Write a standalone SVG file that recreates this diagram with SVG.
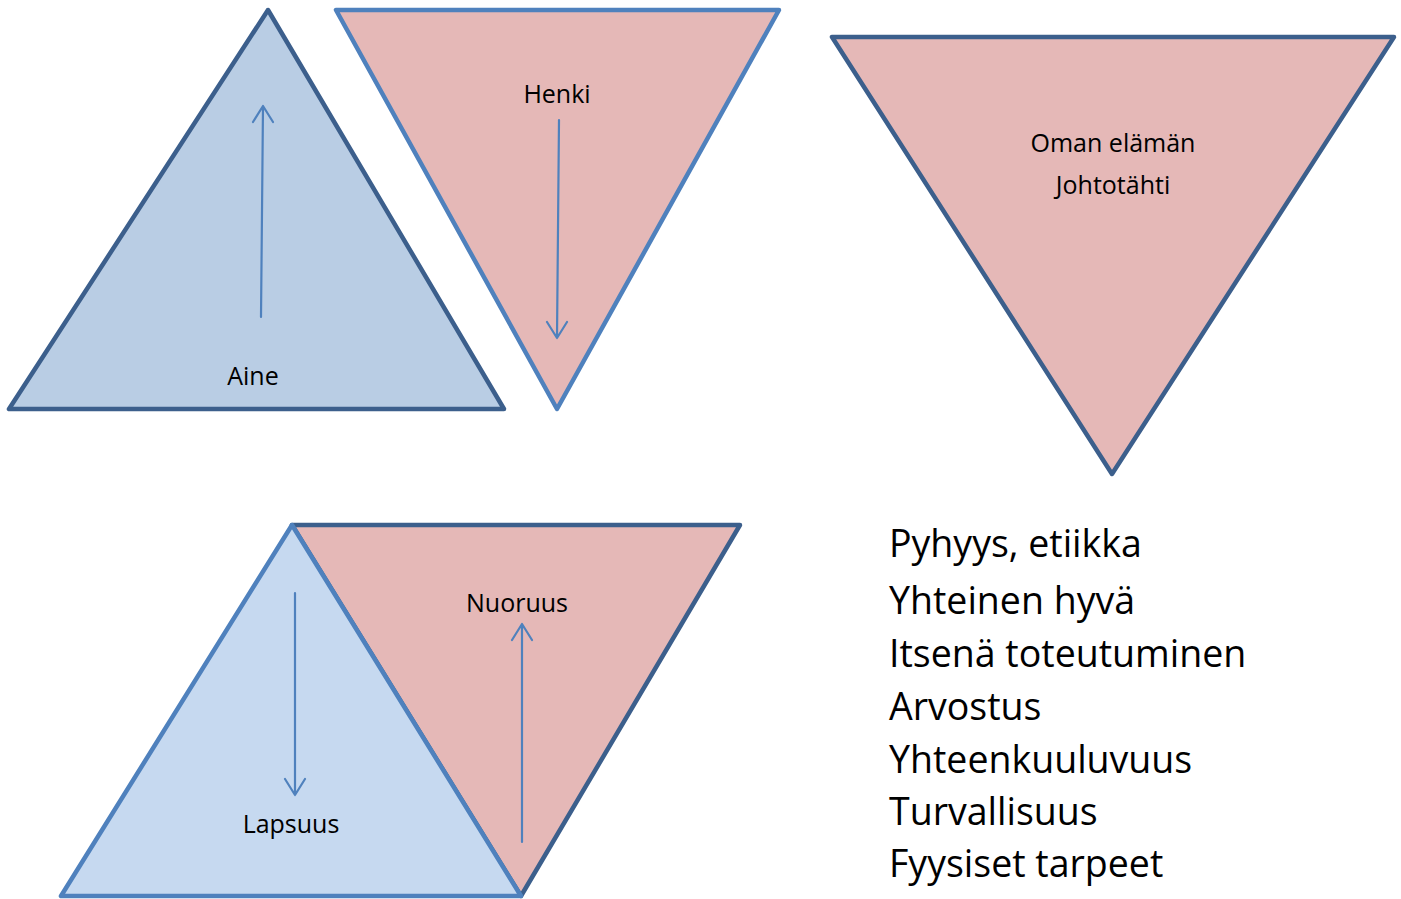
<svg xmlns="http://www.w3.org/2000/svg" width="1401" height="899" viewBox="0 0 1401 899">
<defs>
<style>
.lbl{font-family:"Open Sans","Liberation Sans",sans-serif;font-size:25px;fill:#000;text-anchor:middle}
.lst{font-family:"Open Sans","Liberation Sans",sans-serif;font-size:37.5px;fill:#000}
.dark{stroke:#3c5f8c;stroke-width:4.5;stroke-linejoin:round}
.light{stroke:#4f81bd;stroke-width:4.5;stroke-linejoin:round}
.arr{stroke:#4f81bd;stroke-width:2.2;fill:none;stroke-linecap:round;stroke-linejoin:round}
</style>
</defs>
<rect width="1401" height="899" fill="#fff"/>
<g id="aine">
<polygon points="268,10 9,409 504,409" fill="#b9cde4" class="dark"/>
<text class="lbl" x="253" y="385">Aine</text>
</g>
<g id="henki">
<polygon points="336,10 779,10 557,409" fill="#e5b8b7" class="light"/>
<text class="lbl" x="557" y="103">Henki</text>
</g>
<g id="johtotahti">
<polygon points="832,37 1394,37 1112,474" fill="#e5b8b7" class="dark"/>
<text class="lbl" x="1113" y="152">Oman elämän</text>
<text class="lbl" x="1113" y="194">Johtotähti</text>
</g>
<g id="nuoruus">
<polygon points="292,525 740,525 521,896" fill="#e5b8b7" class="dark"/>
<text class="lbl" x="517" y="612">Nuoruus</text>
</g>
<g id="lapsuus">
<polygon points="292,525 61,896 521,896" fill="#c6d9f0" class="light"/>
<text class="lbl" x="291" y="833">Lapsuus</text>
</g>
<g id="connectors">
<path class="arr" d="M261,317 L263,106 M253,122 L263,106 L273,122"/>
<path class="arr" d="M559,120 L557,338 M547,322 L557,338 L567,322"/>
<path class="arr" d="M295,593 L295,795 M285,779 L295,795 L305,779"/>
<path class="arr" d="M522,842 L522,624 M512,640 L522,624 L532,640"/>
</g>
<g id="list">
<text class="lst" x="889" y="557">Pyhyys, etiikka</text>
<text class="lst" x="889" y="614">Yhteinen hyvä</text>
<text class="lst" x="889" y="667">Itsenä toteutuminen</text>
<text class="lst" x="889" y="720">Arvostus</text>
<text class="lst" x="889" y="773">Yhteenkuuluvuus</text>
<text class="lst" x="889" y="825">Turvallisuus</text>
<text class="lst" x="889" y="877">Fyysiset tarpeet</text>
</g>
</svg>
